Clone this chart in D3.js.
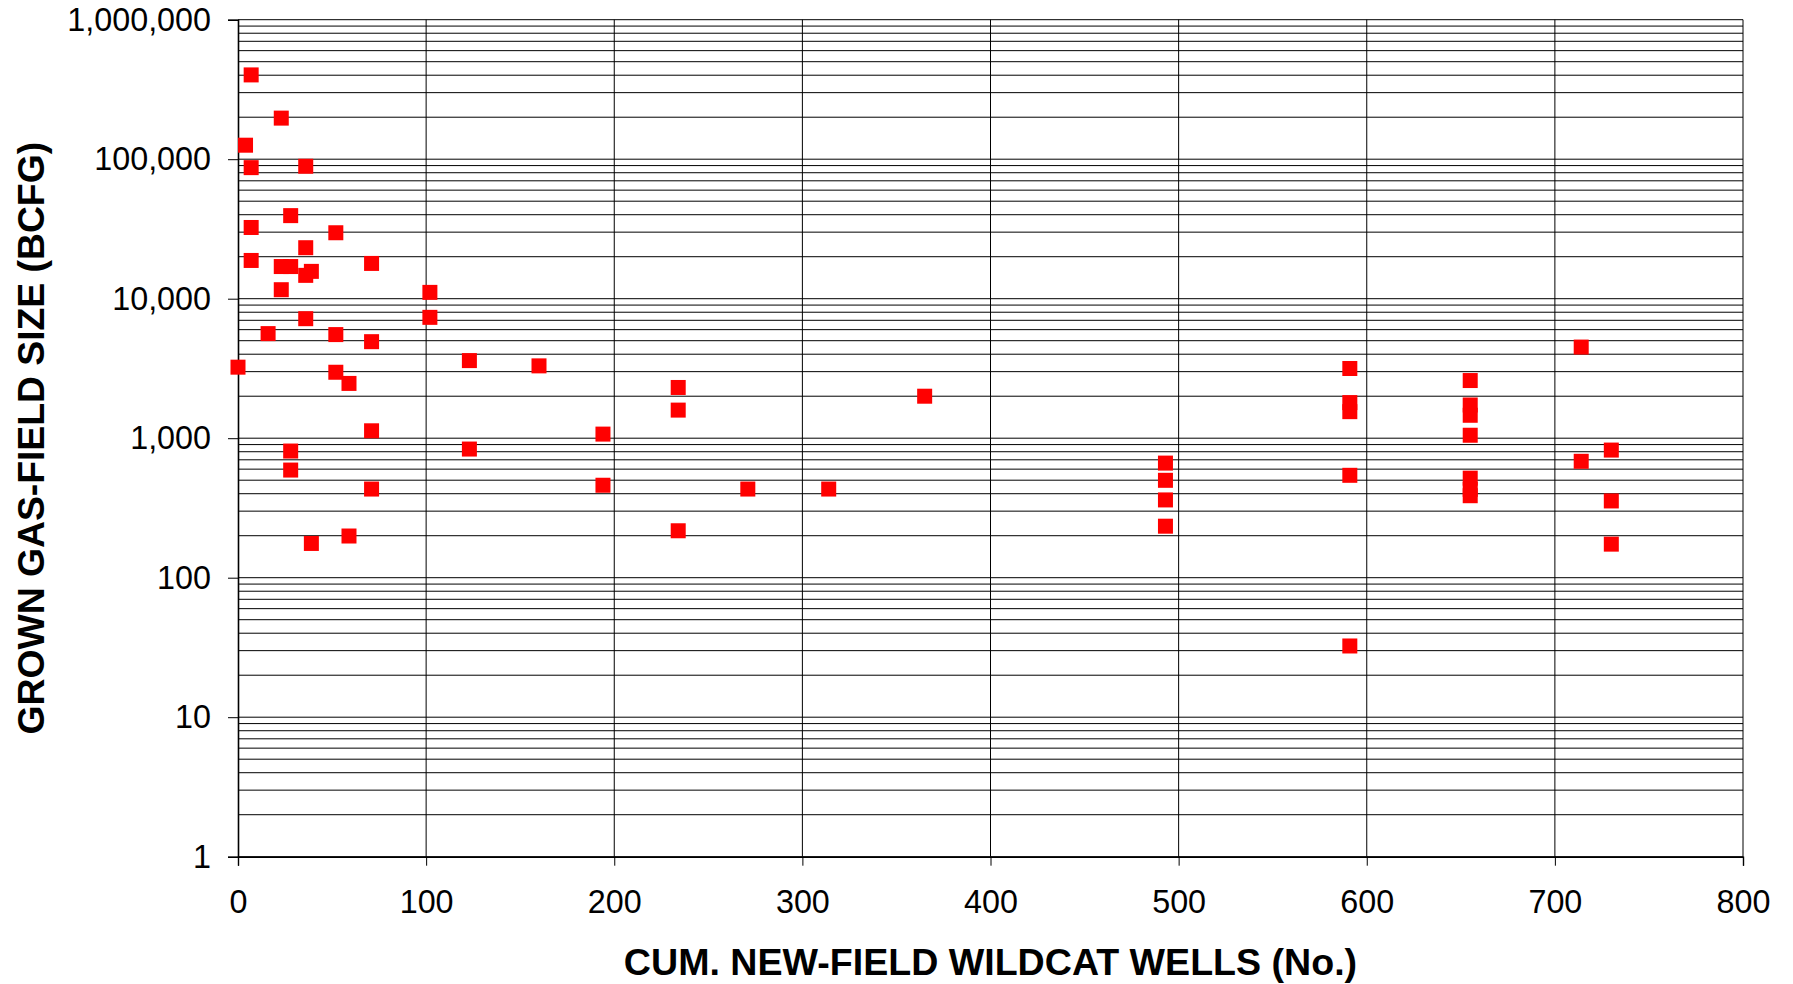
<!DOCTYPE html>
<html>
<head>
<meta charset="utf-8">
<script src="https://cdn.jsdelivr.net/npm/d3@7"></script>
<style>
  html, body { margin: 0; padding: 0; background: #fff; }
  svg { display: block; }
  text { font-family: Arial, "Liberation Sans", sans-serif; fill: #000; }
</style>
</head>
<body>
<svg id="chart" width="1793" height="984"></svg>
<script>
// Cumulative new-field wildcat wells (x) and grown gas-field size in BCFG (y)
const wells = [
  7, 23, 4, 7, 36, 28, 7, 52, 36, 7,
  71, 23, 28, 39, 36, 23, 102, 102, 36, 16,
  52, 71, 123, 160, 0, 52, 59, 234, 234, 365,
  71, 194, 28, 123, 28, 71, 194, 271, 314, 234,
  59, 39, 493, 493, 493, 493, 591, 591, 591, 591,
  591, 655, 655, 655, 655, 655, 655, 655, 714, 714,
  730, 730, 730
];
const fieldSize = [
  402000, 197000, 126000, 87000, 89000, 39400, 32400, 29700, 23200, 18800,
  17900, 17000, 17000, 15700, 14700, 11600, 11100, 7350, 7190, 5620,
  5530, 4920, 3600, 3300, 3230, 2970, 2470, 2310, 1590, 2000,
  1130, 1070, 809, 836, 591, 432, 460, 432, 432, 217,
  199, 176, 663, 499, 361, 234, 3160, 1800, 1550, 542,
  32.4, 2590, 1730, 1460, 1050, 517, 430, 387, 4500, 683,
  822, 355, 174
];
const xTicks = [0, 100, 200, 300, 400, 500, 600, 700, 800];
const yTicks = [1, 10, 100, 1000, 10000, 100000, 1000000];
const xTitle = "CUM. NEW-FIELD WILDCAT WELLS (No.)";
const yTitle = "GROWN GAS-FIELD SIZE (BCFG)";

(function () {
const svg = d3.select("#chart");
const pLeft = 238, pRight = 1743, pTop = 19.7, pBottom = 856.7;

const x = d3.scaleLinear().domain([0, 800]).range([pLeft, pRight]);
const y = d3.scaleLog().domain([1, 1000000]).range([pBottom, pTop]);

// minor + major horizontal grid values
const yGrid = [];
for (let k = 0; k < 6; k++) {
  for (let m = 1; m <= 9; m++) yGrid.push(m * Math.pow(10, k));
}
yGrid.push(1000000);

const grid = svg.append("g");
grid.selectAll("line.h").data(yGrid).enter().append("line")
  .attr("class", "h")
  .attr("x1", pLeft).attr("x2", pRight)
  .attr("y1", d => y(d)).attr("y2", d => y(d))
  .attr("stroke", "#000").attr("stroke-width", 1);
grid.selectAll("line.v").data(xTicks.slice(1)).enter().append("line")
  .attr("class", "v")
  .attr("x1", d => x(d)).attr("x2", d => x(d))
  .attr("y1", pTop).attr("y2", pBottom)
  .attr("stroke", "#000").attr("stroke-width", 1);

// axes
const yAxis = d3.axisLeft(y).tickValues(yTicks).tickFormat(d3.format(","))
  .tickSize(10).tickPadding(17);
const gy = svg.append("g").attr("transform", `translate(${pLeft},0)`).call(yAxis);
gy.select(".domain").attr("stroke", "#000").attr("stroke-width", 1.6);
gy.selectAll(".tick line").attr("stroke", "#000");
gy.selectAll("text").style("font-size", "32.3px").attr("fill", "#000")
  .style("font-family", "Arial, 'Liberation Sans', sans-serif");

const xAxis = d3.axisBottom(x).tickValues(xTicks).tickFormat(d3.format("d"))
  .tickSize(9).tickPadding(24);
const gx = svg.append("g").attr("transform", `translate(0,${pBottom})`).call(xAxis);
gx.select(".domain").attr("stroke", "#000").attr("stroke-width", 1.4);
gx.selectAll(".tick line").attr("stroke", "#000");
gx.selectAll("text").style("font-size", "32.3px").attr("fill", "#000")
  .style("font-family", "Arial, 'Liberation Sans', sans-serif");

// markers
const pts = wells.map((w, i) => ({ w, s: fieldSize[i] }));
const size = 15;
svg.append("g").selectAll("rect").data(pts).enter().append("rect")
  .attr("x", d => x(d.w) - size / 2)
  .attr("y", d => y(d.s) - size / 2)
  .attr("width", size).attr("height", size)
  .attr("fill", "#ff0000");

// titles
svg.append("text")
  .attr("x", (pLeft + pRight) / 2).attr("y", 975)
  .attr("text-anchor", "middle")
  .style("font-size", "37.6px").style("font-weight", "bold")
  .text(xTitle);
svg.append("text")
  .attr("transform", `translate(44,${(pTop + pBottom) / 2}) rotate(-90)`)
  .attr("text-anchor", "middle")
  .style("font-size", "37.3px").style("font-weight", "bold")
  .text(yTitle);
})();
</script>
</body>
</html>
